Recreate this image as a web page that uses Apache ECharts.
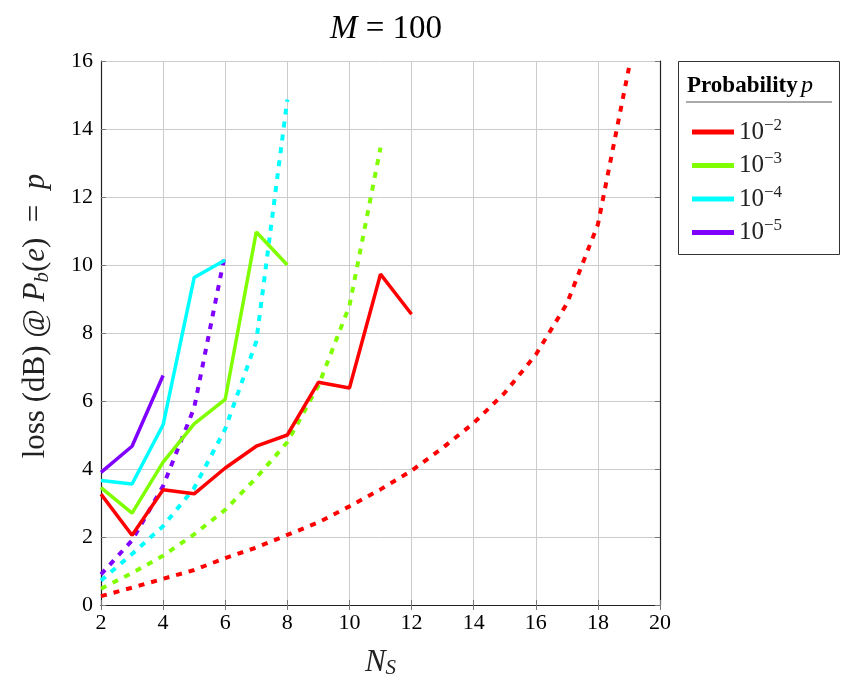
<!DOCTYPE html>
<html><head><meta charset="utf-8">
<script src="https://cdn.jsdelivr.net/npm/echarts@6/dist/echarts.min.js"></script>
<style>html,body{margin:0;padding:0;background:#fff}#c{width:841px;height:684px}</style>
</head><body><div id="c"></div>
<script>
const xTicks = [2,4,6,8,10,12,14,16,18,20];
const yTicks = [0,2,4,6,8,10,12,14,16];
const probLabels = ['−2','−3','−4','−5'];
const colors = ['#ff0000','#80ff00','#00ffff','#8000ff'];

// solid lines (simulated)
const simX1 = [2,3,4,5,6,7,8,9,10,11,12];
const sim1 = [3.26,2.05,3.39,3.27,4.03,4.67,5.0,6.55,6.38,9.73,8.55];
const simX2 = [2,3,4,5,6,7,8];
const sim2 = [3.45,2.7,4.2,5.33,6.05,10.97,10.0];
const simX3 = [2,3,4,5,6];
const sim3 = [3.66,3.56,5.3,9.63,10.15];
const simX4 = [2,3,4];
const sim4 = [3.9,4.67,6.75];

// dotted lines (theory)
const thX1 = [2,3,4,5,6,7,8,9,10,11,12,13,14,15,16,17,18,19];
const th1 = [0.26,0.51,0.77,1.03,1.38,1.69,2.06,2.43,2.9,3.4,3.95,4.62,5.35,6.24,7.36,8.86,11.19,15.8];
const thX2 = [2,3,4,5,6,7,8,9,10,11];
const th2 = [0.48,0.94,1.45,2.08,2.8,3.74,4.79,6.45,8.8,13.45];
const thX3 = [2,3,4,5,6,7,8];
const th3 = [0.72,1.5,2.32,3.44,5.18,7.75,14.87];
const thX4 = [2,3,4,5,6];
const th4 = [0.9,1.9,3.5,5.8,10.35];

const names = ['p2','p3','p4','p5'];
const simX = [simX1,simX2,simX3,simX4], simY=[sim1,sim2,sim3,sim4];
const thX = [thX1,thX2,thX3,thX4], thY=[th1,th2,th3,th4];
const zip = (a,b)=>a.map((v,i)=>[v,b[i]]);

const FONT = 'Liberation Serif';
const series = [];
for (let i=3;i>=0;i--) {
  series.push({name:names[i]+'t', type:'line', data:zip(thX[i],thY[i]), showSymbol:false,
    color:colors[i], lineStyle:{width:4, type:[6,7], color:colors[i]}, z:2, silent:true});
}
for (let i=3;i>=0;i--) {
  series.push({name:names[i], type:'line', data:zip(simX[i],simY[i]), showSymbol:false,
    color:colors[i], lineStyle:{width:3.5, color:colors[i]}, z:3, silent:true});
}

const chart = echarts.init(document.getElementById('c'));
const axisCommon = {
  axisLine:{show:true, lineStyle:{color:'#222', width:1.2}},
  splitLine:{show:true, lineStyle:{color:'#cccccc', width:1}},
  axisTick:{show:true, inside:true, length:5, lineStyle:{color:'#777'}},
};
chart.setOption({
  animation:false,
  title:{text:'{i|M} = 100', left:381, top:8, textAlign:'center',
    textStyle:{fontFamily:FONT, fontSize:33, fontWeight:'normal', color:'#000',
      rich:{i:{fontFamily:FONT, fontSize:33, fontStyle:'italic', color:'#000'}}}},
  grid:{left:101, right:181, top:61, bottom:72},
  xAxis:[{type:'value', min:2, max:20, interval:2, ...axisCommon,
    axisLabel:{fontFamily:FONT, fontSize:22, color:'#000', margin:7},
    name:'{i|N}{s|S}', nameLocation:'middle', nameGap:41,
    nameTextStyle:{fontFamily:FONT, fontSize:31, color:'#222',
      rich:{i:{fontFamily:FONT,fontSize:31,fontStyle:'italic',color:'#222'},
            s:{fontFamily:FONT,fontSize:21,fontStyle:'italic',color:'#222',padding:[12,0,0,0]}}}},
    {type:'value', position:'top', min:2, max:20, interval:2, axisLabel:{show:false},
      axisLine:{show:true,lineStyle:{color:'#222',width:1.2}}, splitLine:{show:false},
      axisTick:{show:true, inside:true, length:5, lineStyle:{color:'#777'}}}],
  yAxis:[{type:'value', min:0, max:16, interval:2, ...axisCommon,
    axisLabel:{fontFamily:FONT, fontSize:22, color:'#000', margin:8}},
    {type:'value', position:'right', min:0, max:16, interval:2, axisLabel:{show:false},
      axisLine:{show:true,lineStyle:{color:'#222',width:1.2}}, splitLine:{show:false},
      axisTick:{show:true, inside:true, length:5, lineStyle:{color:'#777'}}}],
  legend:{data:names, orient:'vertical', left:687, top:112, itemWidth:42, itemHeight:5,
    itemGap:6, icon:'rect', selectedMode:false,
    formatter:(n)=>'{b|10}{s|'+probLabels[names.indexOf(n)]+'}',
    textStyle:{fontFamily:FONT, fontSize:25, color:'#222',
      rich:{b:{fontFamily:FONT,fontSize:25,color:'#222'},
            s:{fontFamily:FONT,fontSize:17,color:'#222',padding:[0,0,13,0]}}}},
  graphic:[
    {type:'text', x:36, y:316, rotation:Math.PI/2,
      style:{text:'loss (dB) @ {i|P}{s|b}({i|e})  =  {i|p}', fill:'#222', align:'center', verticalAlign:'middle',
        font:'31px "Liberation Serif"',
        rich:{i:{fontFamily:FONT,fontSize:31,fontStyle:'italic',fill:'#222'},
              s:{fontFamily:FONT,fontSize:21,fontStyle:'italic',fill:'#222',padding:[12,0,0,0]}}}},
    {type:'rect', shape:{x:678.5,y:61.5,width:161,height:193}, style:{fill:'none', stroke:'#333', lineWidth:1}},
    {type:'text', x:687, y:74, style:{text:'{b|Probability} {i|p}', fill:'#000',
      rich:{b:{fontFamily:FONT,fontSize:23,fontWeight:'bold',fill:'#000'},
            i:{fontFamily:FONT,fontSize:24,fontStyle:'italic',fill:'#000'}}}},
    {type:'line', shape:{x1:686,y1:102,x2:832,y2:102}, style:{stroke:'#555', lineWidth:1}}
  ],
  series
});
</script></body></html>
